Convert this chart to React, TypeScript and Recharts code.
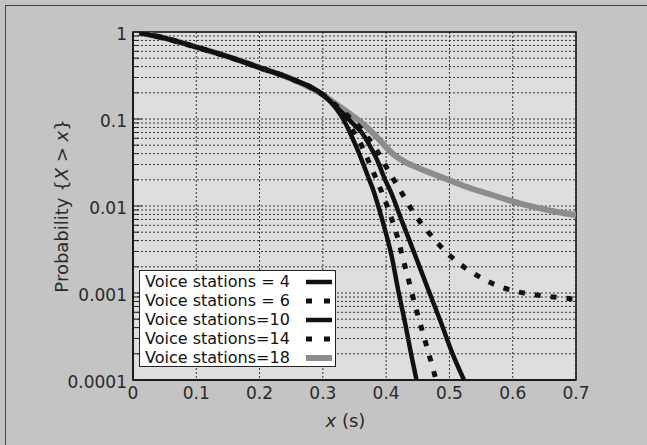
import React from 'react';
import { LineChart, Line, XAxis, YAxis, CartesianGrid, Legend, ReferenceArea } from 'recharts';

const FONT = "'DejaVu Sans', sans-serif";

const xTicks = [0, 0.1, 0.2, 0.3, 0.4, 0.5, 0.6, 0.7];
const yDecades = [0.0001, 0.001, 0.01, 0.1, 1];
const yMinorSteps = [2, 3, 4, 5, 6, 7, 8, 9];

// shared start of every curve (they overlap up to x = 0.3)
const headX = [0.01, 0.05, 0.1, 0.15, 0.2, 0.25, 0.3];
const headY = [0.98, 0.85, 0.67, 0.52, 0.39, 0.29, 0.19];

const vs4X = [0.32, 0.332, 0.342, 0.3523, 0.3626, 0.3712, 0.3796, 0.3875, 0.3954, 0.409, 0.419, 0.43, 0.44, 0.448];
const vs4Y = [0.135, 0.1, 0.072, 0.049, 0.032, 0.022, 0.0153, 0.01, 0.0063, 0.0026, 0.00108, 0.00045, 0.00019, 0.0001];

const vs6X = [0.32, 0.335, 0.348, 0.358, 0.372, 0.385, 0.396, 0.405, 0.417, 0.432, 0.447, 0.463, 0.479];
const vs6Y = [0.14, 0.1, 0.072, 0.055, 0.033, 0.02, 0.0128, 0.0085, 0.0046, 0.00176, 0.00067, 0.00026, 0.0001];

const vs10X = [0.32, 0.335, 0.35, 0.36, 0.375, 0.388, 0.397, 0.406, 0.426, 0.446, 0.466, 0.486, 0.505, 0.523];
const vs10Y = [0.14, 0.11, 0.085, 0.072, 0.048, 0.031, 0.021, 0.0153, 0.0064, 0.0027, 0.00112, 0.00047, 0.0002, 0.0001];

const vs14X = [0.32, 0.34, 0.36, 0.372, 0.385, 0.398, 0.414, 0.43, 0.4455, 0.464, 0.482, 0.503, 0.527, 0.551, 0.58, 0.606, 0.637, 0.664, 0.698];
const vs14Y = [0.145, 0.108, 0.078, 0.06, 0.044, 0.03, 0.019, 0.0122, 0.0079, 0.0053, 0.0037, 0.0026, 0.0019, 0.00148, 0.00118, 0.00104, 0.00095, 0.0009, 0.00085];

const vs18X = [0.32, 0.34, 0.36, 0.38, 0.395, 0.41, 0.43, 0.453, 0.48, 0.506, 0.53, 0.559, 0.585, 0.611, 0.64, 0.664, 0.7];
const vs18Y = [0.15, 0.118, 0.092, 0.068, 0.052, 0.04, 0.032, 0.027, 0.0225, 0.019, 0.0163, 0.014, 0.0122, 0.0107, 0.0095, 0.0087, 0.0079];

const toRows = (xs: number[], ys: number[]) =>
    headX.map((x, i) => ({ x, y: headY[i] })).concat(xs.map((x, i) => ({ x, y: ys[i] })));

const yTicks = yDecades.flatMap((d) => (d < 1 ? [d, ...yMinorSteps.map((m) => d * m)] : [d]));

const series = [
    { key: 'vs18', label: 'Voice stations=18', rows: toRows(vs18X, vs18Y), color: '#8c8c8c', width: 6, dash: undefined },
    { key: 'vs14', label: 'Voice stations=14', rows: toRows(vs14X, vs14Y), color: '#111', width: 5, dash: '6 10' },
    { key: 'vs10', label: 'Voice stations=10', rows: toRows(vs10X, vs10Y), color: '#111', width: 4.5, dash: undefined },
    { key: 'vs6', label: 'Voice stations = 6', rows: toRows(vs6X, vs6Y), color: '#111', width: 5, dash: '6 10' },
    { key: 'vs4', label: 'Voice stations = 4', rows: toRows(vs4X, vs4Y), color: '#111', width: 4.5, dash: undefined },
];

function YTick({ x, y, payload }: any) {
    const v = payload.value;
    const major = yDecades.some((d) => Math.abs(d - v) / d < 1e-6);
    return (
        <g>
            <line x1={x + 5} x2={x + 5 + (major ? 9 : 6)} y1={y} y2={y} stroke="#222" strokeWidth={1} />
            {major && (
                <text x={x - 1} y={y} dy={8} textAnchor="end" fill="#2a2a2a" fontSize={17} fontFamily={FONT}>
                    {String(v)}
                </text>
            )}
        </g>
    );
}

function LegendBox() {
    const order = [...series].reverse();
    return (
        <div
            style={{
                background: '#fff',
                border: '1.5px solid #222',
                width: 197,
                height: 97,
                boxSizing: 'border-box',
                padding: '1px 3px 0 5px',
                fontFamily: FONT,
                fontSize: 16,
                color: '#111',
            }}
        >
            {order.map((s) => (
                <div key={s.key} style={{ display: 'flex', alignItems: 'center', height: 19 }}>
                    <span style={{ flex: 1, whiteSpace: 'pre', lineHeight: '19px' }}>{s.label}</span>
                    <svg width={26} height={8}>
                        <line x1={0} x2={26} y1={4} y2={4} stroke={s.color} strokeWidth={s.width} strokeDasharray={s.dash ? '6 12' : undefined} />
                    </svg>
                </div>
            ))}
        </div>
    );
}

export default function App() {
    return (
        <div style={{ position: 'absolute', left: 0, top: 0, width: 647, height: 445, background: '#c4c4c4' }}>
            <div style={{ position: 'absolute', left: 5, top: 5, right: 0, bottom: 0, borderLeft: '1px solid #444', borderTop: '1px solid #444' }} />
            <LineChart width={647} height={445} margin={{ top: 32, right: 71, bottom: 0, left: 0 }}>
                <CartesianGrid stroke="#222" strokeDasharray="2 2" strokeWidth={0.9} fill="#dedede" fillOpacity={1} />
                <XAxis
                    type="number"
                    dataKey="x"
                    domain={[0, 0.7]}
                    ticks={xTicks}
                    allowDataOverflow
                    height={65}
                    tickSize={0}
                    tickMargin={7}
                    axisLine={{ stroke: '#111', strokeWidth: 1.5 }}
                    tick={{ fill: '#2a2a2a', fontSize: 17, fontFamily: FONT }}
                    label={({ viewBox }: any) => (
                        <text x={viewBox.x + viewBox.width / 2 - 9} y={viewBox.y + 47} textAnchor="middle" fill="#2a2a2a" fontSize={18} fontFamily={FONT}>
                            <tspan fontStyle="italic">x</tspan> (s)
                        </text>
                    )}
                />
                <YAxis
                    type="number"
                    dataKey="y"
                    scale="log"
                    domain={[0.0001, 1]}
                    ticks={yTicks}
                    allowDataOverflow
                    width={133}
                    tickSize={0}
                    tickMargin={5}
                    interval={0}
                    axisLine={{ stroke: '#111', strokeWidth: 1.5 }}
                    tick={YTick}
                    label={({ viewBox }: any) => {
                        const cx = viewBox.x + 62;
                        const cy = viewBox.y + viewBox.height / 2;
                        return (
                            <text x={cx} y={cy} transform={`rotate(-90 ${cx} ${cy})`} dy={6} textAnchor="middle" fill="#2a2a2a" fontSize={18} fontFamily={FONT}>
                                Probability {'{'}
                                <tspan fontStyle="italic">X</tspan> &gt; <tspan fontStyle="italic">x</tspan>
                                {'}'}
                            </text>
                        );
                    }}
                />
                <ReferenceArea x1={0} x2={0.7} y1={0.0001} y2={1} fill="none" stroke="#111" strokeWidth={1.5} ifOverflow="visible" />
                {series.map((s) => (
                    <Line
                        key={s.key}
                        data={s.rows}
                        dataKey="y"
                        type="monotone"
                        stroke={s.color}
                        strokeWidth={s.width}
                        strokeDasharray={s.dash}
                        dot={false}
                        activeDot={false}
                        isAnimationActive={false}
                    />
                ))}
                <Legend
                    layout="vertical"
                    align="center"
                    verticalAlign="middle"
                    content={() => <LegendBox />}
                    wrapperStyle={{ left: 139, top: 270, width: 197, height: 97 }}
                />
            </LineChart>
        </div>
    );
}
